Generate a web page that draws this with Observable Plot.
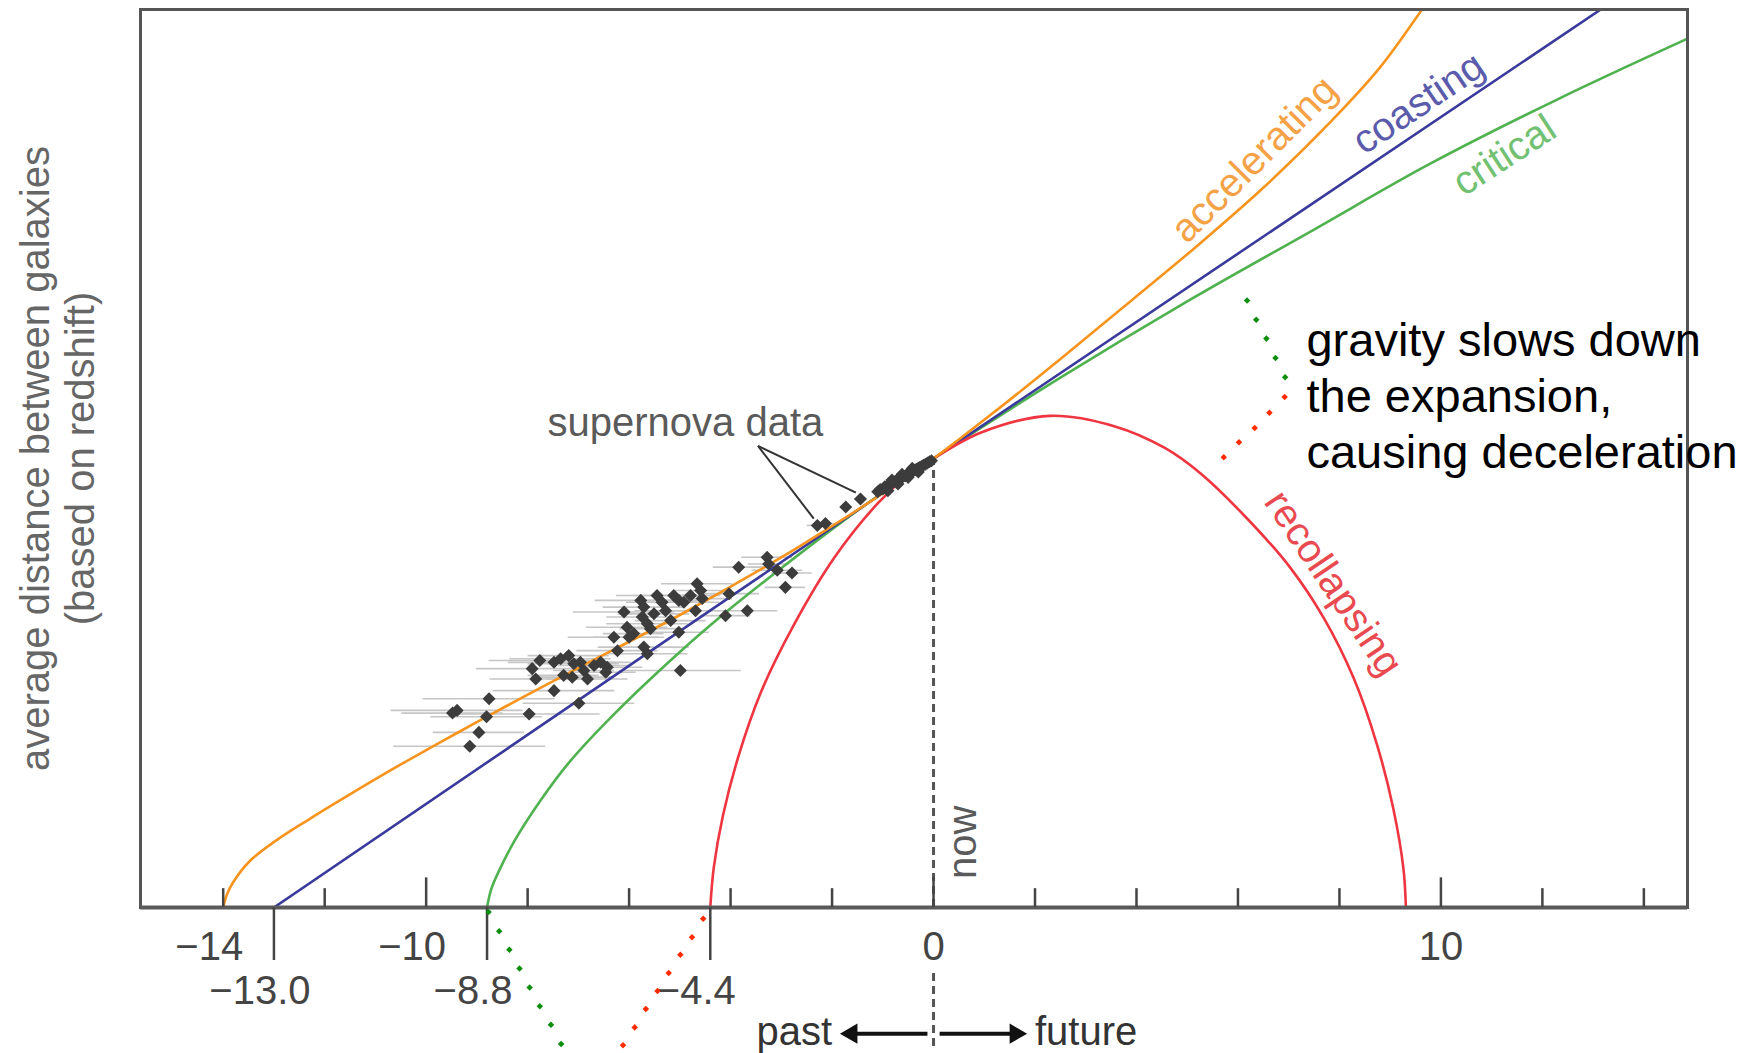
<!DOCTYPE html>
<html><head><meta charset="utf-8">
<script src="https://cdn.jsdelivr.net/npm/d3@7"></script>
<script src="https://cdn.jsdelivr.net/npm/@observablehq/plot@0.6"></script>
<style>html,body{margin:0;padding:0;background:#fff;} svg{display:block;}</style>
</head><body><div id="chart"></div>
<script>
// ---- curves: [time in Gyr from now, relative distance (now = 1)]
const accelerating = [[-14.00,0.000],[-13.93,0.028],[-13.81,0.055],[-13.48,0.103],[-12.96,0.149],[-12.30,0.197],[-11.65,0.242],[-11.00,0.286],[-10.34,0.329],[-9.69,0.370],[-9.03,0.411],[-8.38,0.451],[-7.72,0.491],[-6.96,0.536],[-4.99,0.652],[-3.01,0.779],[-2.09,0.843],[-1.18,0.909],[0,1.0],[1.27,1.110],[2.58,1.229],[3.89,1.351],[5.20,1.474],[6.51,1.604],[7.82,1.749],[8.80,1.871],[9.59,1.994],[9.70,2.012]];
const coasting = [[-13.0,0.0],[0,1.0],[13.15,2.0],[13.4,2.02]];
const critical = [[-8.80,0.000],[-8.72,0.040],[-8.55,0.085],[-8.25,0.150],[-7.76,0.236],[-7.19,0.322],[-6.30,0.430],[-4.99,0.570],[-4.13,0.654],[-3.01,0.755],[-2.03,0.840],[-1.04,0.921],[0,1.0],[2.5,1.18],[5.0,1.35],[7.5,1.51],[9.78,1.656],[12.3,1.80],[14.86,1.935]];
const recollapsing = [[-4.40,0.000],[-4.33,0.090],[-4.15,0.205],[-3.85,0.335],[-3.40,0.480],[-2.75,0.630],[-1.95,0.780],[-1.10,0.900],[-0.55,0.958],[0,1.0],[0.94,1.058],[2.30,1.095],[3.56,1.072],[4.55,1.024],[5.27,0.966],[6.25,0.858],[7.03,0.757],[7.69,0.645],[8.28,0.511],[8.74,0.363],[9.06,0.221],[9.26,0.088],[9.31,0.000]];

// ---- supernova data: time, distance, horizontal error (half width)
const snTime = [-9.48,-9.39,-8.76,-8.81,-8.96,-9.14,-7.97,-7.48,-6.99,
  -7.76,-7.91,-7.84,-7.48,-7.35,-7.19,-7.09,-7.29,-7.12,-6.96,-6.89,-6.82,-6.69,-6.56,-6.43,-6.46,
  -6.30,-6.23,-6.10,-6.04,-6.00,-5.91,
  -5.77,-5.71,-5.74,-5.64,-5.58,-5.51,-5.45,-5.35,-5.28,-5.18,-5.12,-5.02,-4.92,-4.79,-4.66,-4.59,-4.56,-4.69,
  -5.71,-5.64,-5.02,-4.99,-4.10,-4.03,-3.67,-3.84,-3.28,-3.25,-3.08,-2.79,-2.92,-2.29,-2.13,-1.73,-1.44,
  -1.10,-1.05,-1.00,-0.96,-0.92,-0.88,-0.84,-0.80,-0.76,-0.72,-0.68,-0.64,-0.60,-0.56,-0.52,-0.48,-0.44,-0.40,-0.36,-0.32,-0.28,-0.24,-0.20,-0.16,-0.12,-0.08,-0.04,
  -0.90,-0.70,-0.50,-0.30,-0.62,-0.82,-0.42];
const snDist = [0.433,0.439,0.465,0.425,0.390,0.359,0.431,0.483,0.455,
  0.550,0.532,0.509,0.546,0.554,0.561,0.543,0.517,0.513,0.546,0.528,0.509,0.539,0.546,0.535,0.524,
  0.602,0.572,0.658,0.624,0.602,0.610,
  0.684,0.669,0.647,0.632,0.621,0.654,0.695,0.680,0.661,0.639,0.695,0.684,0.680,0.695,0.721,0.706,0.688,0.661,
  0.580,0.565,0.613,0.528,0.650,0.699,0.661,0.758,0.780,0.765,0.751,0.745,0.713,0.851,0.855,0.892,0.910,
  0.926,0.931,0.932,0.937,0.938,0.941,0.944,0.947,0.949,0.952,0.954,0.957,0.960,0.961,0.965,0.967,0.969,0.972,0.975,0.977,0.980,0.982,0.985,0.987,0.990,0.993,0.995,
  0.928,0.943,0.958,0.970,0.965,0.952,0.978];
const snErr = [1.0,1.3,1.3,1.1,0.9,1.5,1.4,1.2,1.1,
  1.0,1.1,0.9,0.9,1.0,0.8,0.9,0.7,0.8,0.7,0.6,0.8,0.7,0.6,0.7,0.6,
  0.9,0.8,1.0,0.8,0.7,0.6,
  0.9,0.8,0.7,0.8,0.6,0.7,0.8,0.7,0.6,0.7,0.8,0.6,0.7,0.6,0.7,0.5,0.6,0.5,
  0.9,0.8,0.6,1.2,0.5,0.6,0.6,0.5,0.5,0.4,0.5,0.4,0.4,0.2,0.2,0.1,0.1,
  0,0,0,0,0,0,0,0,0,0,0,0,0,0,0,0,0,0,0,0,0,0,0,0,0,0,0,
  0,0,0,0,0,0,0];
const snIdx = d3.range(snTime.length);

// ---- axis ticks and labels
const minorTicks = [-14,-12,-8,-6,-4,-2,2,4,6,8,12,14];
const majorTicks = [-10,0,10];
const ageTicks = [-13.0,-8.8,-4.4];
const row1Neg = [-14,-10], row1NegText = ["−14","−10"];
const row1Pos = [0,10], row1PosText = ["0","10"];
const ageText = ["−13.0","−8.8","−4.4"];

// ---- annotation dots (green / red dotted guides)
const upperGreen = [[6.18,1.352],[6.36,1.309],[6.56,1.267],[6.74,1.224],[6.93,1.181]];
const upperRed = [[6.92,1.137],[6.62,1.102],[6.33,1.068],[6.02,1.036],[5.72,1.003]];
const lowerGreen = [[-8.77,-0.010],[-8.56,-0.053],[-8.36,-0.094],[-8.16,-0.136],[-7.96,-0.178],[-7.76,-0.220],[-7.54,-0.261],[-7.34,-0.304]];
const lowerRed = [[-4.54,-0.025],[-4.76,-0.066],[-4.99,-0.105],[-5.22,-0.146],[-5.44,-0.186],[-5.67,-0.226],[-5.89,-0.267],[-6.12,-0.307]];

// ---- texts
const curveLabels = [
  {t: 6.32, d: 1.666, text: "accelerating", rot: -45, color: "#f5a247"},
  {t: 9.56, d: 1.791, text: "coasting", rot: -34, color: "#5b5bab"},
  {t: 11.25, d: 1.675, text: "critical", rot: -33, color: "#72c172"},
  {t: 7.88, d: 0.722, text: "recollapsing", rot: 56, color: "#e94a4f"}
];
const leaders = [{x1:-3.46,y1:1.028,x2:-2.36,y2:0.866},{x1:-3.46,y1:1.028,x2:-1.53,y2:0.924}];
const noteText = "gravity slows down\nthe expansion,\ncausing deceleration";
const yLabel = "average distance between galaxies\n(based on redshift)";

const grayText = "#5a5a5a";
const font = "'Liberation Sans', Arial, Helvetica, sans-serif";

const chart = Plot.plot({
  width: 1758, height: 1053,
  marginLeft: 140, marginRight: 71, marginTop: 9, marginBottom: 146,
  x: {domain: [-15.63, 14.86], axis: null},
  y: {domain: [0, 2], axis: null},
  style: {fontFamily: font, background: "white", overflow: "visible"},
  marks: [
    // error bars
    Plot.ruleY(snIdx.filter(i => snErr[i] > 0), {y: i => snDist[i], x1: i => snTime[i] - snErr[i], x2: i => snTime[i] + snErr[i], stroke: "#c6c6c6", strokeWidth: 1.6}),
    // now line
    Plot.ruleX([0], {y1: 0, y2: 0.99, stroke: "#555", strokeWidth: 3, strokeDasharray: "8,5"}),
    Plot.ruleX([0], {y1: -0.147, y2: -0.314, stroke: "#555", strokeWidth: 3, strokeDasharray: "8,5"}),
    // curves
    Plot.line(critical, {x: d => d[0], y: d => d[1], stroke: "#4fb24f", strokeWidth: 2.6, curve: "catmull-rom", clip: true}),
    Plot.line(coasting, {x: d => d[0], y: d => d[1], stroke: "#3a3a9c", strokeWidth: 2.6, clip: true}),
    Plot.line(recollapsing, {x: d => d[0], y: d => d[1], stroke: "#ee3540", strokeWidth: 2.6, curve: "catmull-rom", clip: true}),
    Plot.line(accelerating, {x: d => d[0], y: d => d[1], stroke: "#f7941e", strokeWidth: 2.6, curve: "catmull-rom", clip: true}),
    // supernova points
    Plot.dot(snIdx, {x: i => snTime[i], y: i => snDist[i], symbol: "square", rotate: 45, r: 5.2, fill: "#3c3c3c"}),
    Plot.link(leaders, {x1: "x1", y1: "y1", x2: "x2", y2: "y2", stroke: "#333", strokeWidth: 2}),
    Plot.text(["supernova data"], {x: -4.89, y: 1.051, textAnchor: "middle", lineAnchor: "bottom", fontSize: 40, fill: grayText}),
    // frame and axis
    Plot.frame({stroke: "#555", strokeWidth: 3}),
    Plot.ruleY([0], {stroke: "#5a5a5a", strokeWidth: 4}),
    Plot.ruleX(minorTicks, {y1: 0, y2: 0.042, stroke: "#444", strokeWidth: 2.5}),
    Plot.ruleX(majorTicks, {y1: 0, y2: 0.066, stroke: "#444", strokeWidth: 2.5}),
    Plot.ruleX(ageTicks, {y1: 0, y2: -0.118, stroke: "#444", strokeWidth: 2.5}),
    Plot.text(row1Neg, {x: d => d, frameAnchor: "bottom", dy: 52, dx: -14, lineAnchor: "bottom", text: (d, i) => row1NegText[i], fontSize: 40, fill: "#444"}),
    Plot.text(row1Pos, {x: d => d, frameAnchor: "bottom", dy: 52, lineAnchor: "bottom", text: (d, i) => row1PosText[i], fontSize: 40, fill: "#444"}),
    Plot.text(ageTicks, {x: d => d, frameAnchor: "bottom", dy: 96, dx: -14, lineAnchor: "bottom", text: (d, i) => ageText[i], fontSize: 40, fill: "#444"}),
    // past / future
    Plot.link([{a: -0.12, b: -1.55}, {a: 0.12, b: 1.55}], {x1: "a", x2: "b", y1: -0.281, y2: -0.281, stroke: "#111", strokeWidth: 4}),
    Plot.dot([{a: -1.615, r: -90}, {a: 1.615, r: 90}], {x: "a", y: -0.281, rotate: "r", symbol: "triangle", r: 7.5, fill: "#111"}),
    Plot.text(["past"], {x: -2.0, y: -0.307, textAnchor: "end", lineAnchor: "bottom", fontSize: 40, fill: "#333"}),
    Plot.text(["future"], {x: 2.0, y: -0.307, textAnchor: "start", lineAnchor: "bottom", fontSize: 40, fill: "#333"}),
    Plot.text(["now"], {x: 0.59, y: 0.145, rotate: -90, textAnchor: "middle", lineAnchor: "middle", fontSize: 40, fill: grayText}),
    // curve labels
    Plot.text(curveLabels, {x: "t", y: "d", text: "text", rotate: "rot", fill: "color", textAnchor: "middle", lineAnchor: "middle", fontSize: 40}),
    // y label
    Plot.text([yLabel], {frameAnchor: "left", y: 1.0, dx: -83, rotate: -90, textAnchor: "middle", lineAnchor: "middle", lineHeight: 1.12, fontSize: 40, fill: "#666"}),
    // annotation
    Plot.dot(upperGreen, {x: d => d[0], y: d => d[1], symbol: "square", rotate: 45, r: 2.6, fill: "#0d8f0d"}),
    Plot.dot(lowerGreen, {x: d => d[0], y: d => d[1], symbol: "square", rotate: 45, r: 2.6, fill: "#0d8f0d"}),
    Plot.dot(upperRed, {x: d => d[0], y: d => d[1], symbol: "square", rotate: 45, r: 2.6, fill: "#ff2a00"}),
    Plot.dot(lowerRed, {x: d => d[0], y: d => d[1], symbol: "square", rotate: 45, r: 2.6, fill: "#ff2a00"}),
    Plot.text([noteText], {x: 7.35, y: 0.978, textAnchor: "start", lineAnchor: "bottom", lineHeight: 1.2, fontSize: 47, fill: "#000"})
  ]
});
document.getElementById("chart").appendChild(chart);
</script></body></html>
